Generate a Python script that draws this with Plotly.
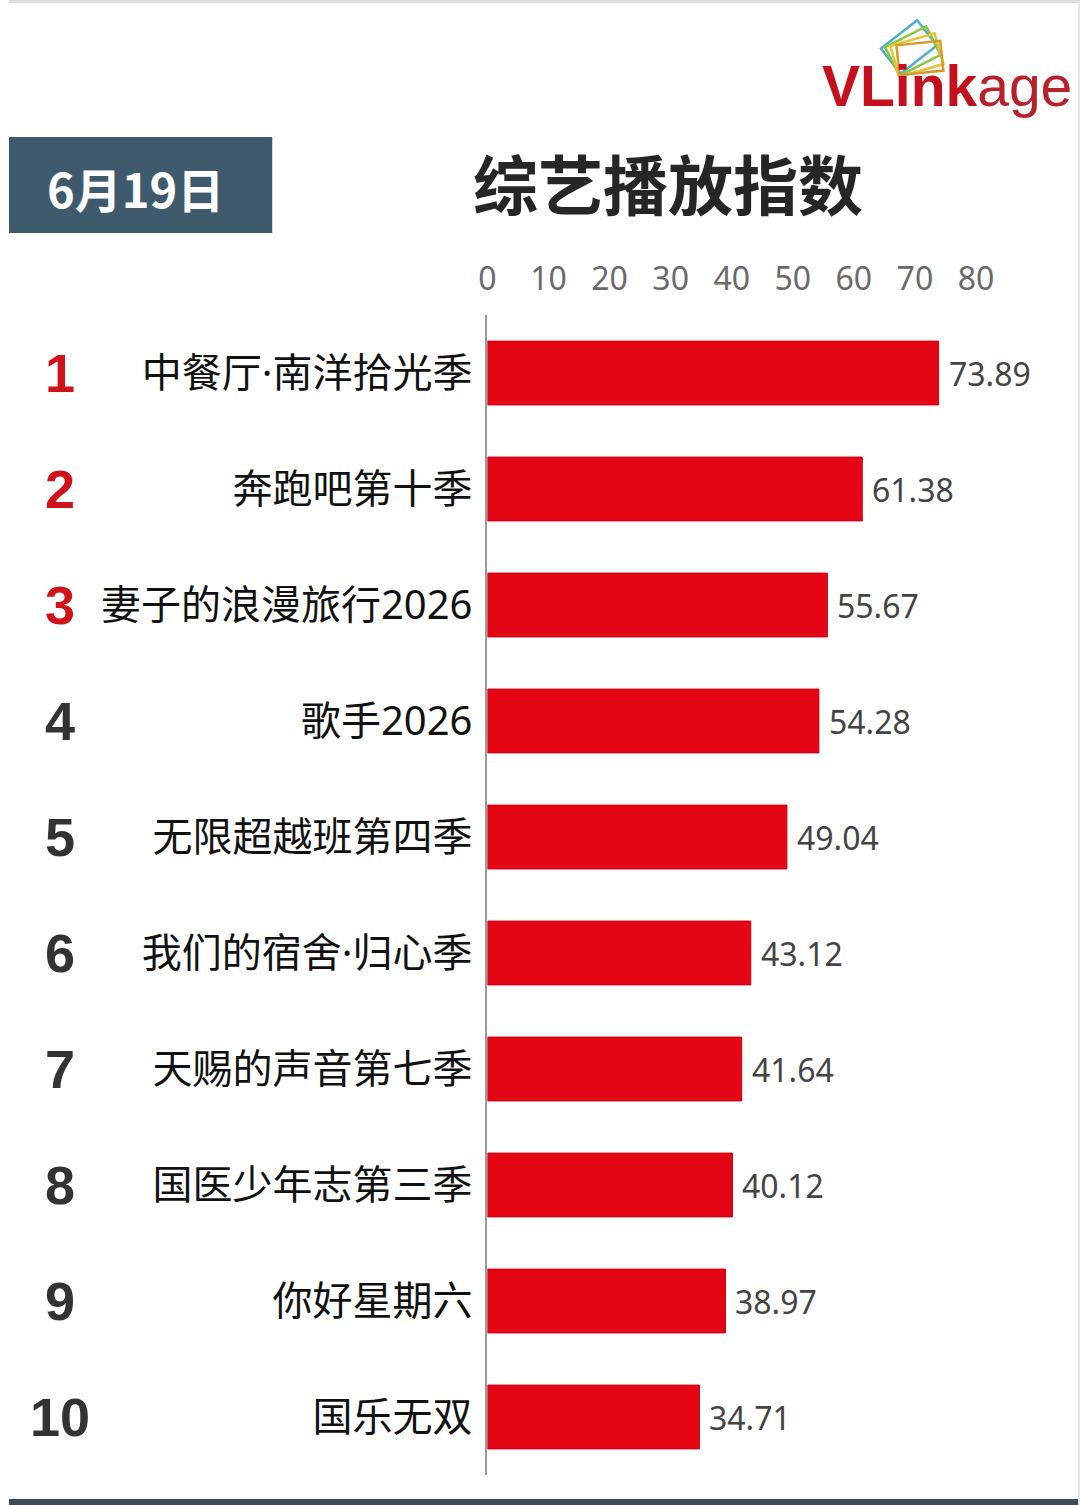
import math
import plotly.graph_objects as go

W, H = 1080, 1505

ranks = ["1", "2", "3", "4", "5", "6", "7", "8", "9", "10"]
shows = ["中餐厅·南洋拾光季", "奔跑吧第十季", "妻子的浪漫旅行2026", "歌手2026", "无限超越班第四季",
         "我们的宿舍·归心季", "天赐的声音第七季", "国医少年志第三季", "你好星期六", "国乐无双"]
values = [73.89, 61.38, 55.67, 54.28, 49.04, 43.12, 41.64, 40.12, 38.97, 34.71]
tick_vals = [0, 10, 20, 30, 40, 50, 60, 70, 80]
title_text = "综艺播放指数"
date_text = "6月19日"

CJK = "Noto Sans CJK SC"
MIX = "Noto Sans, Noto Sans CJK SC"
RED = "#e40515"

# the rendered page maps figure x to screen as 9 + 0.9907*x; compensate so the
# screen positions land where the reference has them
SX, OX = 0.9907, 9.0


def dx(x_screen):
    return (x_screen - OX) / SX


def px(x_screen):
    return dx(x_screen) / W


def py(y):
    return (H - y) / H


AXIS_X = dx(487)
UNIT = 6.1 / SX

fig = go.Figure()
fig.add_trace(go.Bar(
    x=values, y=shows, orientation="h",
    marker=dict(color=RED, line=dict(color="#c8000f", width=1)),
    width=0.55, hoverinfo="skip",
))

annotations = []
# value labels
for s, v in zip(shows, values):
    annotations.append(dict(x=v, y=s, xref="x", yref="y", text=f"{v:.2f}", showarrow=False,
                            xanchor="left", yanchor="middle", xshift=8,
                            font=dict(family=MIX, size=32, color="#444444")))
# rank numbers
for i, (r, s) in enumerate(zip(ranks, shows)):
    annotations.append(dict(x=px(60), y=s, xref="paper", yref="y", text=f"<b>{r}</b>", showarrow=False,
                            xanchor="center", yanchor="middle",
                            font=dict(family="Liberation Sans", size=54,
                                      color="#d0121b" if i < 3 else "#333333")))
# title
annotations.append(dict(x=px(667), y=py(182), xref="paper", yref="paper", text=f"<b>{title_text}</b>",
                        showarrow=False, xanchor="center", yanchor="middle",
                        font=dict(family=CJK, size=65, color="#262626")))
# date
annotations.append(dict(x=px(135), y=py(187), xref="paper", yref="paper", text=f"<b>{date_text}</b>",
                        showarrow=False, xanchor="center", yanchor="middle",
                        font=dict(family=CJK, size=47, color="#ffffff")))
# logo text
annotations.append(dict(x=px(946), y=py(86), xref="paper", yref="paper",
                        text="<b>VLink</b><span style='color:#b8202a'>age</span>",
                        showarrow=False, xanchor="center", yanchor="middle",
                        font=dict(family="Liberation Sans", size=57, color="#c4101c")))

shapes = []
# date box
shapes.append(dict(type="rect", xref="paper", yref="paper", x0=0, x1=px(272), y0=py(233), y1=py(137),
                   fillcolor="#3f5a6d", line=dict(width=0), layer="below"))


# logo icon: stacked rotated frames
def frame(cx, cy, w, h, ang, color):
    a = math.radians(ang)
    pts = []
    for ddx, ddy in [(-w / 2, -h / 2), (w / 2, -h / 2), (w / 2, h / 2), (-w / 2, h / 2)]:
        X = cx + ddx * math.cos(a) - ddy * math.sin(a)
        Y = cy + ddx * math.sin(a) + ddy * math.cos(a)
        pts.append((px(X), py(Y)))
    d = "M " + " L ".join(f"{p[0]:.5f},{p[1]:.5f}" for p in pts) + " Z"
    return dict(type="path", xref="paper", yref="paper", path=d, line=dict(color=color, width=2.5))


shapes.append(frame(908, 47, 46, 32, -38, "#4fb0c6"))
shapes.append(frame(912, 51, 46, 32, -27, "#8cc63f"))
shapes.append(frame(916, 55, 46, 32, -16, "#e8c33a"))
shapes.append(frame(919, 58, 44, 30, -6, "#d49a2a"))
# page border
shapes.append(dict(type="line", xref="paper", yref="paper", x0=0, x1=1, y0=py(1.5), y1=py(1.5),
                   line=dict(color="#dddddd", width=3)))
shapes.append(dict(type="line", xref="paper", yref="paper", x0=0, x1=1, y0=py(1502), y1=py(1502),
                   line=dict(color="#3d4a55", width=6)))
shapes.append(dict(type="line", xref="paper", yref="paper", x0=1 - 1 / W, x1=1 - 1 / W, y0=0, y1=1,
                   line=dict(color="#e6e6e6", width=2)))

fig.update_layout(
    width=W, height=H,
    margin=dict(l=0, r=0, t=0, b=0),
    paper_bgcolor="#ffffff", plot_bgcolor="#ffffff",
    showlegend=False,
    bargap=0.45,
    annotations=annotations,
    shapes=shapes,
    xaxis=dict(domain=[AXIS_X / W, 1], range=[0, (W - AXIS_X) / UNIT], side="top",
               tickvals=tick_vals, ticktext=[str(t) for t in tick_vals],
               showgrid=False, zeroline=False, showline=False, ticks="",
               ticklabelstandoff=18,
               tickfont=dict(family=MIX, size=32, color="#6a6a6a"), fixedrange=True),
    yaxis=dict(domain=[py(1475), py(315)], range=[9.5, -0.5], type="category",
               showgrid=False, zeroline=False, showline=True, linecolor="#9a9a9a", linewidth=2,
               ticks="", ticklabelstandoff=5,
               tickfont=dict(family=MIX, size=40, color="#111111"), fixedrange=True),
)

fig.write_html("out.html")
